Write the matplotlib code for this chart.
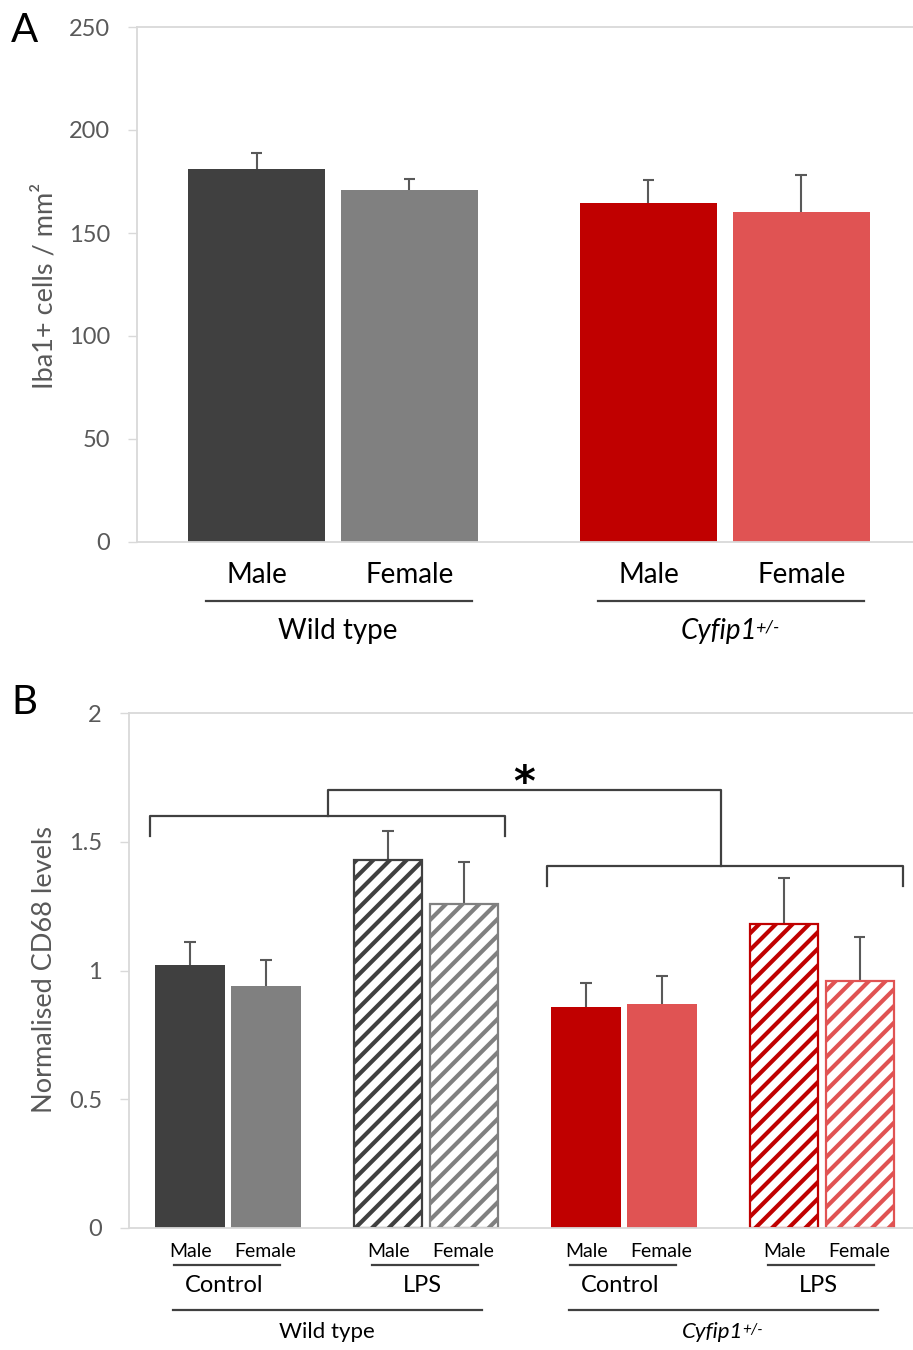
import matplotlib
matplotlib.use('Agg')
import matplotlib.pyplot as plt
import numpy as np

plt.rcParams['font.family'] = ['Lato', 'DejaVu Sans']
plt.rcParams['hatch.linewidth'] = 3.0

# ---------------- data ----------------
# Panel A: Iba1+ cells / mm2
a_genotypes = ['Wild type', 'Cyfip1']
a_sexes = ['Male', 'Female']
a_male = [181, 164.5]
a_female = [171, 160]
a_male_err = [8, 11]
a_female_err = [5, 18]
a_male_colors = ['#404040', '#C00000']
a_female_colors = ['#808080', '#E05353']
a_yticks = [0, 50, 100, 150, 200, 250]

# Panel B: Normalised CD68 levels
b_treatments = ['Control', 'LPS', 'Control', 'LPS']
b_genotypes = ['Wild type', 'Cyfip1']
b_male = [1.02, 1.43, 0.86, 1.18]
b_female = [0.94, 1.26, 0.87, 0.96]
b_male_err = [0.09, 0.11, 0.09, 0.18]
b_female_err = [0.10, 0.16, 0.11, 0.17]
b_male_colors = ['#404040', '#404040', '#C00000', '#C00000']
b_female_colors = ['#808080', '#808080', '#E05353', '#E05353']
b_hatched = [False, True, False, True]
b_yticks = [0, 0.5, 1, 1.5, 2]
b_yticklabels = ['0', '0.5', '1', '1.5', '2']

GRID = '#D9D9D9'
TXT = '#595959'
LINE = '#404040'
ERR = '#595959'

W, H = 913, 1350
fig = plt.figure(figsize=(W / 100, H / 100), dpi=100)


def style_axes(ax):
    ax.spines['right'].set_visible(False)
    for s in ['left', 'bottom', 'top']:
        ax.spines[s].set_color(GRID)
        ax.spines[s].set_linewidth(1.3)
    ax.tick_params(axis='y', direction='out', length=6.5, width=1.0, color=GRID,
                   labelcolor=TXT, labelsize=17, pad=13)
    ax.tick_params(axis='x', length=0, labelbottom=False)


def err_up(ax, x, y, e, cap):
    top = np.asarray(y) + np.asarray(e)
    ax.vlines(x, y, top, color=ERR, lw=1.5, zorder=1)
    ax.hlines(top, np.asarray(x) - cap, np.asarray(x) + cap, color=ERR, lw=1.5, zorder=1)


# ---------------- Panel A ----------------
axA = fig.add_axes([137 / W, (H - 542) / H, (W - 137) / W, 515 / H])
style_axes(axA)
xa = np.arange(len(a_genotypes))
off, bw = 0.195, 0.35
axA.bar(xa - off, a_male, bw, color=a_male_colors, zorder=2)
axA.bar(xa + off, a_female, bw, color=a_female_colors, zorder=2)
err_up(axA, xa - off, a_male, a_male_err, 0.015)
err_up(axA, xa + off, a_female, a_female_err, 0.015)
axA.set_xlim(-0.5, 1.48)
axA.set_ylim(0, 250)
axA.set_yticks(a_yticks)
axA.set_ylabel('Iba1+ cells / mm²', fontsize=19.5, color=TXT)
axA.yaxis.set_label_coords(-0.102, 0.498)

trA = axA.get_xaxis_transform()
for i in range(len(a_genotypes)):
    axA.text(i - off, -0.064, a_sexes[0], transform=trA, ha='center', va='center', fontsize=20)
    axA.text(i + off, -0.064, a_sexes[1], transform=trA, ha='center', va='center', fontsize=20)
    axA.plot([i - 0.324, i + 0.355], [-0.1146, -0.1146], transform=trA, color=LINE,
             lw=1.6, clip_on=False)
axA.text(0.013, -0.173, 'Wild type', transform=trA, ha='center', va='center', fontsize=20)
tA = axA.text(1 - 0.015, -0.173, 'Cyfip1', transform=trA, ha='center', va='center',
              fontsize=20, style='italic')
axA.annotate('+/-', xy=(0.97, 0.95), xycoords=tA, ha='left', va='top', fontsize=13,
             style='italic')
fig.text(24 / W, 1 - 30 / H, 'A', fontsize=29, ha='center', va='center')

# ---------------- Panel B ----------------
axB = fig.add_axes([129 / W, (H - 1228) / H, (W - 129) / W, 515 / H])
style_axes(axB)
xb = np.arange(len(b_treatments))
off, bw = 0.19, 0.354
for i in range(len(b_treatments)):
    for dx, val, col in [(-off, b_male[i], b_male_colors[i]), (off, b_female[i], b_female_colors[i])]:
        if b_hatched[i]:
            axB.bar(xb[i] + dx, val, bw * 0.97, facecolor='white', edgecolor=col,
                    hatch='//', linewidth=1.6, zorder=2)
        else:
            axB.bar(xb[i] + dx, val, bw, color=col, zorder=2)
err_up(axB, xb - off, b_male, b_male_err, 0.03)
err_up(axB, xb + off, b_female, b_female_err, 0.03)
axB.set_xlim(-0.5, 3.46)
axB.set_ylim(0, 2)
axB.set_yticks(b_yticks)
axB.set_yticklabels(b_yticklabels)
axB.set_ylabel('Normalised CD68 levels', fontsize=19.5, color=TXT)
axB.yaxis.set_label_coords(-0.092, 0.501)

# significance brackets
br = dict(color=LINE, lw=1.6, zorder=3)
axB.plot([-0.394, -0.394, 1.399, 1.399], [1.522, 1.600, 1.600, 1.522], **br)
axB.plot([1.611, 1.611, 3.409, 3.409], [1.328, 1.406, 1.406, 1.328], **br)
axB.plot([0.505, 0.505, 2.49, 2.49], [1.600, 1.701, 1.701, 1.406], **br)
axB.text(1.495, 1.678, '*', ha='center', va='baseline', fontsize=30, fontweight='bold',
         family='DejaVu Sans')

trB = axB.get_xaxis_transform()
for i in range(len(b_treatments)):
    axB.text(i - off, -0.0447, 'Male', transform=trB, ha='center', va='center', fontsize=14)
    axB.text(i + off, -0.0447, 'Female', transform=trB, ha='center', va='center', fontsize=14)
    axB.plot([i - 0.273, i + 0.263], [-0.0718, -0.0718], transform=trB, color=LINE,
             lw=1.6, clip_on=False)
    axB.text(i - 0.02, -0.112, b_treatments[i], transform=trB, ha='center', va='center',
             fontsize=17)
for g in range(2):
    axB.plot([2 * g - 0.28, 2 * g + 1.285], [-0.159, -0.159], transform=trB, color=LINE,
             lw=1.6, clip_on=False)
axB.text(0.5, -0.202, 'Wild type', transform=trB, ha='center', va='center', fontsize=16)
tB = axB.text(2.45, -0.202, 'Cyfip1', transform=trB, ha='center', va='center',
              fontsize=16, style='italic')
axB.annotate('+/-', xy=(0.97, 0.95), xycoords=tB, ha='left', va='top', fontsize=11,
             style='italic')
fig.text(24 / W, 1 - 703 / H, 'B', fontsize=29, ha='center', va='center')

fig.savefig('out.png', dpi=100)
